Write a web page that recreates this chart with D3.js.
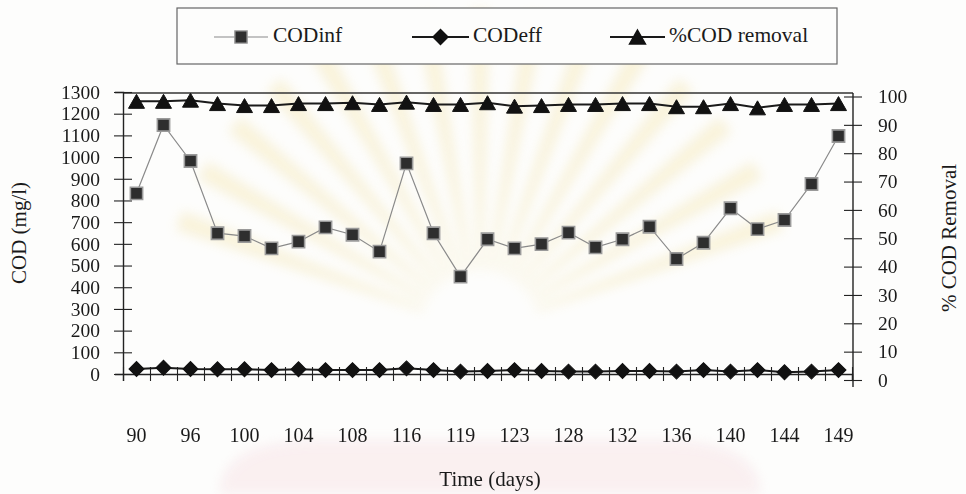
<!DOCTYPE html>
<html>
<head>
<meta charset="utf-8">
<script src="https://cdn.jsdelivr.net/npm/d3@7/dist/d3.min.js"></script>
<style>
  html, body { margin: 0; padding: 0; background: #fdfdfc; }
  svg { display: block; font-family: "Liberation Serif", "Times New Roman", serif; }
</style>
</head>
<body>
<svg id="chart" width="966" height="494"></svg>
<script>
// Day labels on the time axis (one label for every second sample)
const dayLabels = ["90", "96", "100", "104", "108", "116", "119", "123", "128", "132", "136", "140", "144", "149"];

// Influent COD (mg/l)
const codInf = [833, 1148, 982, 649, 636, 579, 610, 676, 642, 564, 971, 649, 449,
                621, 579, 599, 652, 584, 621, 679, 530, 605, 764, 668, 710, 876, 1097];

// Effluent COD (mg/l)
const codEff = [23, 29, 23, 22, 22, 18, 22, 18, 18, 18, 26, 18, 11,
                14, 18, 14, 11, 11, 14, 14, 11, 18, 11, 18, 8, 11, 18];

// COD removal (%)
const codRemoval = [98.3, 98.3, 98.7, 97.5, 96.8, 96.8, 97.5, 97.5, 97.8, 97.2, 98.0, 97.2, 97.2,
                    97.8, 96.6, 96.8, 97.2, 97.2, 97.5, 97.5, 96.4, 96.4, 97.5, 96.0, 97.2, 97.2, 97.5];

const leftTicks = d3.range(0, 1301, 100);
const rightTicks = d3.range(0, 101, 10);

const svg = d3.select("#chart");

// faint page emblem behind the chart: soft pale rays and a light arch
const defs = svg.append("defs");
defs.append("filter").attr("id", "soft").attr("x", "-20%").attr("y", "-20%").attr("width", "140%").attr("height", "140%")
  .append("feGaussianBlur").attr("stdDeviation", 6);
const bg = svg.append("g").attr("filter", "url(#soft)").attr("opacity", 0.45);
const rayArc = d3.arc().innerRadius(60).outerRadius(320);
d3.range(-70, 71, 10).forEach(deg => {
  const a = deg * Math.PI / 180;
  bg.append("path")
    .attr("d", rayArc({ startAngle: a - 0.03, endAngle: a + 0.03 }))
    .attr("transform", "translate(480,330)")
    .attr("fill", "#f4e6b0");
});
bg.append("path").attr("d", "M220,494 Q220,440 320,440 L660,440 Q760,440 760,494 Z")
  .attr("fill", "#f6dfe3");

const plot = { left: 123, right: 852, top: 92, bottom: 374 };
const n = codInf.length;
const idx = d3.range(n);

const x = d3.scaleBand().domain(idx).range([plot.left, plot.right]);
const xEdge = d3.scaleLinear().domain([0, n]).range([plot.left, plot.right]);
const yL = d3.scaleLinear().domain([0, 1300]).range([plot.bottom, plot.top]);
const yR = d3.scaleLinear().domain([0, 100]).range([380, 96.5]);
const cx = i => x(i) + x.bandwidth() / 2;

// plot frame: top border
svg.append("line").attr("x1", plot.left).attr("x2", plot.right + 1)
  .attr("y1", plot.top + 1).attr("y2", plot.top + 1)
  .attr("stroke", "#333").attr("stroke-width", 1.3);

// left axis
const gL = svg.append("g").attr("transform", `translate(${plot.left},0)`)
  .call(d3.axisLeft(yL).tickValues(leftTicks).tickSize(8).tickPadding(15).tickFormat(d3.format("d")));
gL.selectAll(".tick line").attr("x2", -9).attr("x1", 9);

// right axis
const gR = svg.append("g").attr("transform", `translate(${plot.right + 1},0)`)
  .call(d3.axisRight(yR).tickValues(rightTicks).tickSize(8).tickPadding(17).tickFormat(d3.format("d")));
gR.selectAll(".tick line").attr("x1", -9).attr("x2", 9);
gR.select(".domain").attr("d", `M0,${plot.top + 1}V387`);

// bottom axis: crossing ticks at category edges
const gB = svg.append("g").attr("transform", `translate(0,${plot.bottom})`)
  .call(d3.axisBottom(xEdge).tickValues(d3.range(0, n + 1)).tickSize(7).tickFormat(""));
gB.selectAll(".tick line").attr("y1", -7).attr("y2", 7);

// bottom axis labels at category centres
const gBL = svg.append("g").attr("transform", `translate(0,${plot.bottom})`)
  .call(d3.axisBottom(x).tickSize(0).tickPadding(54)
    .tickFormat(i => (i % 2 === 0 ? dayLabels[i / 2] : "")));
gBL.select(".domain").remove();

[gL, gR, gB, gBL].forEach(g => {
  g.selectAll(".domain").attr("stroke", "#222").attr("stroke-width", 1.4);
  g.selectAll(".tick line").attr("stroke", "#222").attr("stroke-width", 1.1);
  g.selectAll("text").attr("font-family", "Liberation Serif").attr("font-size", 20).attr("fill", "#1a1a1a");
});
gL.selectAll("text").attr("font-size", 19.5);
gR.selectAll("text").attr("font-size", 19.5);

// axis titles
svg.append("text").attr("transform", "translate(21,233) rotate(-90)")
  .attr("text-anchor", "middle").attr("dominant-baseline", "middle")
  .attr("font-size", 21).attr("fill", "#1a1a1a").text("COD (mg/l)");
svg.append("text").attr("transform", "translate(951,238) rotate(-90)")
  .attr("text-anchor", "middle").attr("dominant-baseline", "middle")
  .attr("font-size", 21).attr("fill", "#1a1a1a").text("% COD Removal");
svg.append("text").attr("x", 490).attr("y", 481)
  .attr("text-anchor", "middle").attr("dominant-baseline", "middle")
  .attr("font-size", 21).attr("fill", "#1a1a1a").text("Time (days)");

// marker shapes, each centred on its bounding box
const squarePath = d3.symbol(d3.symbolSquare).size(150)();
const diamondPath = d3.symbol(d3.symbolSquare).size(112)();
const triW = 16, triH = 14;
const trianglePath = `M0,${-triH / 2}L${triW / 2},${triH / 2}L${-triW / 2},${triH / 2}Z`;

function drawSeries(values, yScale, opts) {
  const line = d3.line().x((d, i) => cx(i)).y(d => yScale(d));
  svg.append("path").datum(values).attr("d", line)
    .attr("fill", "none").attr("stroke", opts.lineColor).attr("stroke-width", opts.lineWidth);
  svg.append("g").selectAll("path").data(values).join("path")
    .attr("d", opts.shape)
    .attr("transform", (d, i) => `translate(${cx(i)},${yScale(d)})${opts.rotate ? " rotate(45)" : ""}`)
    .attr("fill", opts.fill).attr("stroke", opts.stroke).attr("stroke-width", opts.strokeWidth);
}

drawSeries(codRemoval, yR, { lineColor: "#1a1a1a", lineWidth: 2, shape: trianglePath, fill: "#111", stroke: "#111", strokeWidth: 1 });
drawSeries(codEff, yL, { lineColor: "#1a1a1a", lineWidth: 2, shape: diamondPath, rotate: true, fill: "#111", stroke: "#111", strokeWidth: 1 });
drawSeries(codInf, yL, { lineColor: "#8a8a8a", lineWidth: 1.2, shape: squarePath, fill: "#2e2e2e", stroke: "#9a9a9a", strokeWidth: 1.6 });

// legend
const leg = svg.append("g");
leg.append("rect").attr("x", 177).attr("y", 8).attr("width", 660).attr("height", 56)
  .attr("fill", "#fdfdfc").attr("stroke", "#666").attr("stroke-width", 1.2);

const legendItems = [
  { label: "CODinf", x1: 214, x2: 268, tx: 273, shape: squarePath, color: "#8a8a8a", w: 1.2, fill: "#2e2e2e", stroke: "#9a9a9a", rotate: false },
  { label: "CODeff", x1: 412, x2: 469, tx: 473, shape: diamondPath, color: "#1a1a1a", w: 2, fill: "#111", stroke: "#111", rotate: true },
  { label: "%COD removal", x1: 610, x2: 665, tx: 669, shape: trianglePath, color: "#1a1a1a", w: 2, fill: "#111", stroke: "#111", rotate: false }
];
const ly = 37;
legendItems.forEach(it => {
  leg.append("line").attr("x1", it.x1).attr("x2", it.x2).attr("y1", ly).attr("y2", ly)
    .attr("stroke", it.color).attr("stroke-width", it.w);
  leg.append("path").attr("d", it.shape)
    .attr("transform", `translate(${(it.x1 + it.x2) / 2},${ly})${it.rotate ? " rotate(45)" : ""}`)
    .attr("fill", it.fill).attr("stroke", it.stroke).attr("stroke-width", 1.4);
  leg.append("text").attr("x", it.tx).attr("y", ly).attr("dominant-baseline", "middle")
    .attr("font-size", 21.5).attr("fill", "#1a1a1a").text(it.label);
});
</script>
</body>
</html>
